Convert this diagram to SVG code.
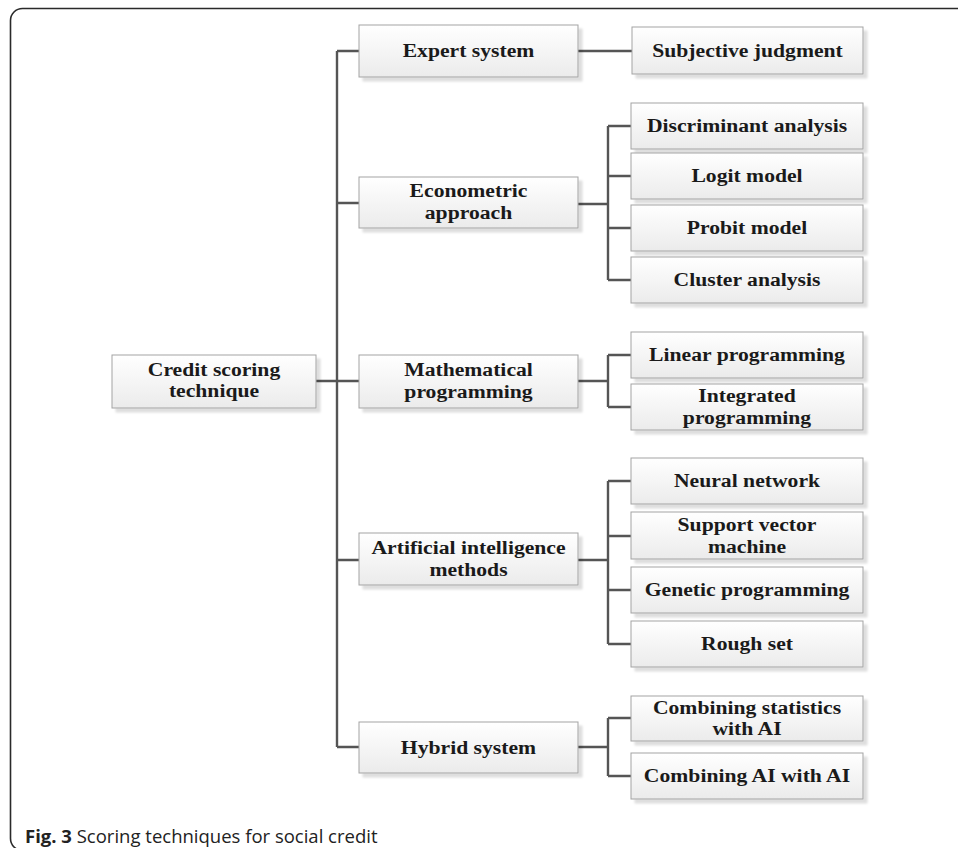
<svg xmlns="http://www.w3.org/2000/svg" width="958" height="848" viewBox="0 0 958 848">
<defs>
<linearGradient id="g" x1="0" y1="0" x2="0" y2="1">
<stop offset="0" stop-color="#ffffff"/>
<stop offset="1" stop-color="#ebebeb"/>
</linearGradient>
<filter id="sh" x="-10%" y="-20%" width="130%" height="160%">
<feDropShadow dx="4" dy="4" stdDeviation="1.2" flood-color="#000" flood-opacity="0.13"/>
</filter>
</defs>
<style>
.box{fill:url(#g);stroke:#a3a3a3;stroke-width:1;filter:url(#sh)}
.t{font-family:"Liberation Serif","Times New Roman",serif;font-weight:bold;font-size:19px;fill:#1a1a1a;text-anchor:middle}
.c{fill:none;stroke:#555555;stroke-width:2.4}
.cap{font-family:"Open Sans","Noto Sans",sans-serif;font-size:18.5px;fill:#222}
</style>
<rect x="10.5" y="8.5" width="980" height="842" rx="12" fill="#fff" stroke="#2a2a2a" stroke-width="1.6"/>
<g id="connectors">
<path class="c" d="M316 381H337M337 51V747M337 51H359M337 203H359M337 381H359M337 560H359M337 747H359"/>
<path class="c" d="M578 51H632"/>
<path class="c" d="M578 204H608M608 126V280M608 126H631M608 176H631M608 228H631M608 280H631"/>
<path class="c" d="M578 381H608M608 355V407M608 355H631M608 407H631"/>
<path class="c" d="M578 560H608M608 481V644M608 481H631M608 536H631M608 590H631M608 644H631"/>
<path class="c" d="M578 747H608M608 718V776M608 718H631M608 776H631"/>
</g>
<g id="credit"><rect class="box" x="112" y="355" width="204" height="53"/><text class="t" transform="translate(214,376) scale(1.14,1)">Credit scoring</text><text class="t" transform="translate(214,397) scale(1.14,1)">technique</text></g>
<g id="expert"><rect class="box" x="359" y="25" width="219" height="52"/><text class="t" transform="translate(468.5,57) scale(1.14,1)">Expert system</text></g>
<g id="econometric"><rect class="box" x="359" y="177" width="219" height="51"/><text class="t" transform="translate(468.5,197) scale(1.14,1)">Econometric</text><text class="t" transform="translate(468.5,218.5) scale(1.14,1)">approach</text></g>
<g id="mathematical"><rect class="box" x="359" y="355" width="219" height="53"/><text class="t" transform="translate(468.5,376) scale(1.14,1)">Mathematical</text><text class="t" transform="translate(468.5,397.5) scale(1.14,1)">programming</text></g>
<g id="ai"><rect class="box" x="359" y="533" width="219" height="52"/><text class="t" transform="translate(468.5,554) scale(1.14,1)">Artificial intelligence</text><text class="t" transform="translate(468.5,575.5) scale(1.14,1)">methods</text></g>
<g id="hybrid"><rect class="box" x="359" y="722" width="219" height="51"/><text class="t" transform="translate(468.5,753.5) scale(1.14,1)">Hybrid system</text></g>
<g id="subjective"><rect class="box" x="632" y="27" width="231" height="47"/><text class="t" transform="translate(747.5,56.5) scale(1.14,1)">Subjective judgment</text></g>
<g id="discriminant"><rect class="box" x="631" y="103" width="232" height="46"/><text class="t" transform="translate(747,132) scale(1.14,1)">Discriminant analysis</text></g>
<g id="logit"><rect class="box" x="631" y="153" width="232" height="46"/><text class="t" transform="translate(747,182) scale(1.14,1)">Logit model</text></g>
<g id="probit"><rect class="box" x="631" y="205" width="232" height="46"/><text class="t" transform="translate(747,234) scale(1.14,1)">Probit model</text></g>
<g id="cluster"><rect class="box" x="631" y="257" width="232" height="46"/><text class="t" transform="translate(747,286) scale(1.14,1)">Cluster analysis</text></g>
<g id="linear"><rect class="box" x="631" y="332" width="232" height="46"/><text class="t" transform="translate(747,361) scale(1.14,1)">Linear programming</text></g>
<g id="integrated"><rect class="box" x="631" y="384" width="232" height="46"/><text class="t" transform="translate(747,402) scale(1.14,1)">Integrated</text><text class="t" transform="translate(747,423.5) scale(1.14,1)">programming</text></g>
<g id="neural"><rect class="box" x="631" y="458" width="232" height="46"/><text class="t" transform="translate(747,487) scale(1.14,1)">Neural network</text></g>
<g id="svm"><rect class="box" x="631" y="512" width="232" height="47"/><text class="t" transform="translate(747,531) scale(1.14,1)">Support vector</text><text class="t" transform="translate(747,552.5) scale(1.14,1)">machine</text></g>
<g id="genetic"><rect class="box" x="631" y="567" width="232" height="46"/><text class="t" transform="translate(747,596) scale(1.14,1)">Genetic programming</text></g>
<g id="rough"><rect class="box" x="631" y="621" width="232" height="46"/><text class="t" transform="translate(747,650) scale(1.14,1)">Rough set</text></g>
<g id="combstat"><rect class="box" x="631" y="696" width="232" height="45"/><text class="t" transform="translate(747,713.5) scale(1.14,1)">Combining statistics</text><text class="t" transform="translate(747,735) scale(1.14,1)">with AI</text></g>
<g id="combai"><rect class="box" x="631" y="753" width="232" height="46"/><text class="t" transform="translate(747,782) scale(1.14,1)">Combining AI with AI</text></g>
<text class="cap" x="25" y="843"><tspan font-weight="bold">Fig. 3</tspan> Scoring techniques for social credit</text>
</svg>
